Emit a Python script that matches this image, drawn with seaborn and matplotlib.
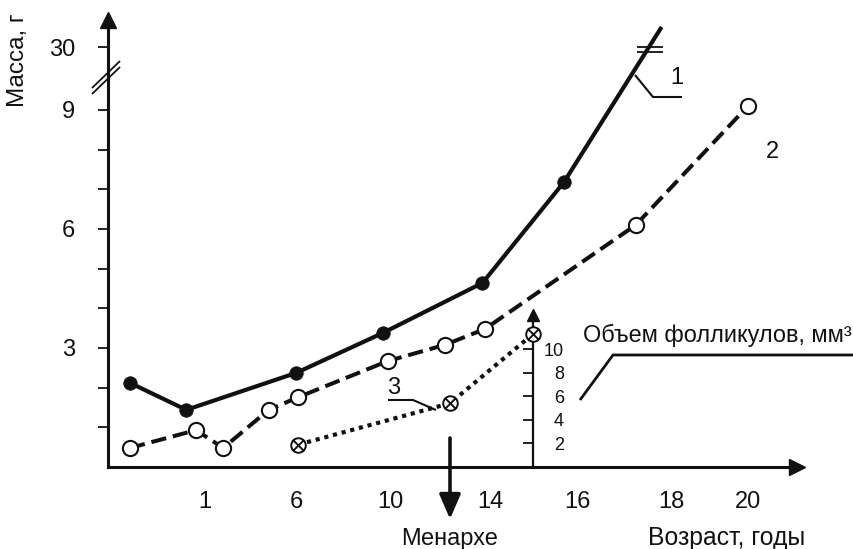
import numpy as np
import pandas as pd
import matplotlib
matplotlib.use("Agg")
import matplotlib.pyplot as plt
import matplotlib.path as mpath
from matplotlib.lines import Line2D
from matplotlib.ticker import FixedLocator, FixedFormatter, NullFormatter, NullLocator
import seaborn as sns

# ---------------- data ----------------
age_ticks = [1, 6, 10, 14, 16, 18, 20]
mass_ticks = [3, 6, 9, 30]
mass_minor_ticks = [1, 2, 4, 5, 7, 8]
volume_ticks = [2, 4, 6, 8, 10]

# curve 1 (mass, g); the last point lies above the axis break
curve1_age = [0, 0.75, 6, 9.7, 13.7, 15.7, 17.8]
curve1_mass = [2.12, 1.44, 2.37, 3.38, 4.64, 7.18, 32.0]
curve1_marked = 6  # points shown with markers

# curve 2 (mass, g)
curve2_age = [0, 0.88, 2, 4.5, 6.1, 9.9, 12.2, 13.8, 17.25, 20]
curve2_mass = [0.48, 0.93, 0.48, 1.44, 1.76, 2.67, 3.08, 3.48, 6.10, 9.10]

# curve 3 (follicle volume, mm^3) on its own axis
curve3_age = [6.1, 12.4, 15.0]
curve3_volume = [1.9, 5.4, 11.3]

menarche_age = 12.4
volume_axis_age = 15.0

# ---------------- layout ----------------
W, H, DPI = 854, 549, 100
INK = "#111111"

# ages are spread evenly between ticks, not linearly
AGE_KNOTS = [-2, 0, 1, 6, 10, 14, 16, 18, 20, 24]
AGE_PIX = [-20, 130, 205, 296, 390, 490, 577, 671, 748, 902]
# mass axis with a break between ~10 g and 30 g
MASS_KNOTS = [-10, 0, 9.8, 30, 50]
MASS_PIX = [-396.7, 0, 388.8, 420, 620]
VOLUME_PIX_PER_UNIT = 11.8


def age_fwd(a):
    return np.interp(a, AGE_KNOTS, AGE_PIX)


def age_inv(p):
    return np.interp(p, AGE_PIX, AGE_KNOTS)


def mass_fwd(m):
    return np.interp(m, MASS_KNOTS, MASS_PIX)


def mass_inv(p):
    return np.interp(p, MASS_PIX, MASS_KNOTS)


sns.set_style("white")
plt.rcParams["font.family"] = ["Liberation Sans", "DejaVu Sans"]
plt.rcParams["text.color"] = INK

AX_L, AX_R, AX_T, AX_B = 108, 797, 20, 467

fig = plt.figure(figsize=(W / DPI, H / DPI), dpi=DPI)
fig.patch.set_facecolor("white")
ax = fig.add_axes([AX_L / W, (H - AX_B) / H, (AX_R - AX_L) / W, (AX_B - AX_T) / H])
ax.set_facecolor("none")
ax.set_xscale("function", functions=(age_fwd, age_inv))
ax.set_yscale("function", functions=(mass_fwd, mass_inv))
ax.set_xlim(age_inv(AX_L), age_inv(AX_R))
ax.set_ylim(0, mass_inv(AX_B - AX_T))

df1 = pd.DataFrame({"age": curve1_age, "mass": curve1_mass})
df2 = pd.DataFrame({"age": curve2_age, "mass": curve2_mass})
df3 = pd.DataFrame({"age": curve3_age, "volume": curve3_volume})

# curve 1: solid line, filled markers
sns.lineplot(data=df1, x="age", y="mass", ax=ax, color=INK, lw=3.0,
             estimator=None, sort=False, solid_capstyle="butt", zorder=3)
sns.scatterplot(data=df1.iloc[:curve1_marked], x="age", y="mass", ax=ax,
                color=INK, s=95, edgecolor=INK, linewidth=0.5, zorder=4)

# curve 2: dashed line, open markers
sns.lineplot(data=df2, x="age", y="mass", ax=ax, color=INK, lw=2.9,
             estimator=None, sort=False, zorder=3)
ax.lines[-1].set_dashes((3.8, 1.7))
ax.lines[-1].set_dash_capstyle("butt")
sns.scatterplot(data=df2, x="age", y="mass", ax=ax, color="white", s=120,
                edgecolor=INK, linewidth=1.5, zorder=4)

# axis styling
for side in ("top", "right"):
    ax.spines[side].set_visible(False)
for side in ("left", "bottom"):
    ax.spines[side].set_linewidth(2.2)
    ax.spines[side].set_color(INK)

ax.xaxis.set_major_locator(FixedLocator(age_ticks))
ax.xaxis.set_major_formatter(FixedFormatter([str(a) for a in age_ticks]))
ax.xaxis.set_minor_locator(NullLocator())
ax.yaxis.set_major_locator(FixedLocator(mass_ticks))
ax.yaxis.set_major_formatter(FixedFormatter([str(m) for m in mass_ticks]))
ax.yaxis.set_minor_locator(FixedLocator(mass_minor_ticks))
ax.yaxis.set_minor_formatter(NullFormatter())
ax.tick_params(axis="y", which="both", direction="out", length=7.5, width=1.3,
               color=INK, pad=16, labelsize=17, labelcolor=INK)
ax.tick_params(axis="x", which="major", direction="out", length=3, width=0.8,
               color="#777777", pad=14, labelsize=17, labelcolor=INK)
ax.set_xlabel("")
ax.set_ylabel("")

# arrow heads on the main axes
ax.plot([1], [0], marker=">", ms=12, color=INK, transform=ax.transAxes, clip_on=False, zorder=5)
ax.plot([0], [1], marker="^", ms=12, color=INK, transform=ax.transAxes, clip_on=False, zorder=5)

# ---------------- follicle volume axis ----------------
ax2 = ax.twinx()
ax2.set_facecolor("none")
ax2.set_ylim(0, (AX_B - AX_T) / VOLUME_PIX_PER_UNIT)
for side in ("top", "bottom", "left"):
    ax2.spines[side].set_visible(False)
vol_top = 12.9
ax2.spines["right"].set_position(("data", volume_axis_age))
ax2.spines["right"].set_bounds(0, vol_top)
ax2.spines["right"].set_linewidth(1.6)
ax2.spines["right"].set_color(INK)
ax2.yaxis.set_major_locator(FixedLocator(volume_ticks))
ax2.yaxis.set_major_formatter(FixedFormatter([str(v) for v in volume_ticks]))
ax2.tick_params(axis="y", direction="in", length=7, width=1.3, color=INK,
                pad=22, labelsize=13, labelcolor=INK)
for lbl in ax2.get_yticklabels():
    lbl.set_ha("right")
ax2.plot([volume_axis_age], [vol_top], marker="^", ms=8.5, color=INK, clip_on=False, zorder=5)

# crossed-circle marker
circle = mpath.Path.unit_circle()
d = 0.72
cross = mpath.Path([(-d, -d), (d, d), (-d, d), (d, -d)],
                   [mpath.Path.MOVETO, mpath.Path.LINETO, mpath.Path.MOVETO, mpath.Path.LINETO])
crossed = mpath.Path.make_compound_path(circle, cross)

sns.lineplot(data=df3, x="age", y="volume", ax=ax2, color=INK, lw=3.0,
             estimator=None, sort=False, zorder=3)
ax2.lines[-1].set_dashes((1.0, 1.15))
ax2.lines[-1].set_dash_capstyle("butt")
sns.scatterplot(data=df3, x="age", y="volume", ax=ax2, marker=crossed, s=110,
                color="white", edgecolor=INK, linewidth=1.4, zorder=4)
ax2.set_ylabel("")
ax2.set_xlabel("")


# ---------------- annotations ----------------
def fx(px):
    return px / W


def fy(py):
    return 1 - py / H


def leader(points, lw=1.5):
    xs = [fx(p[0]) for p in points]
    ys = [fy(p[1]) for p in points]
    fig.add_artist(Line2D(xs, ys, transform=fig.transFigure, color=INK, lw=lw,
                          solid_capstyle="butt", solid_joinstyle="miter"))


fig.text(fx(18), fy(60), "Масса, г", rotation=90, ha="center", va="center", fontsize=17.5)
fig.text(fx(805), fy(545), "Возраст, годы", ha="right", va="baseline", fontsize=17.8)
ax.annotate("Менархе", xy=(menarche_age, fy(545)), xycoords=("data", "figure fraction"),
            ha="center", va="baseline", fontsize=17, annotation_clip=False)
ax.annotate("", xy=(menarche_age, fy(519)), xycoords=("data", "figure fraction"),
            xytext=(menarche_age, fy(438)), textcoords=("data", "figure fraction"),
            arrowprops=dict(arrowstyle="-|>,head_length=1.5,head_width=0.65",
                            lw=2.6, color=INK, shrinkA=0, shrinkB=0),
            annotation_clip=False)

fig.text(fx(583), fy(342), "Объем фолликулов, мм³", ha="left", va="baseline", fontsize=16.9)
leader([(580, 400), (613, 355), (854, 355)], lw=2.0)

fig.text(fx(677), fy(78), "1", ha="center", va="center", fontsize=17)
leader([(635, 75), (653, 97), (682, 97)], lw=1.5)
fig.text(fx(772), fy(152), "2", ha="center", va="center", fontsize=17)
fig.text(fx(394), fy(388), "3", ha="center", va="center", fontsize=17)
leader([(388, 400), (413, 400), (436, 410)], lw=1.5)

# break marks: on curve 1 and on the mass axis
leader([(637, 47), (663, 47)], lw=1.3)
leader([(637, 52), (663, 52)], lw=1.3)
leader([(92, 94), (120, 67)], lw=1.3)
leader([(92, 88), (120, 61)], lw=1.3)

fig.savefig("out.png", dpi=DPI, facecolor="white")
